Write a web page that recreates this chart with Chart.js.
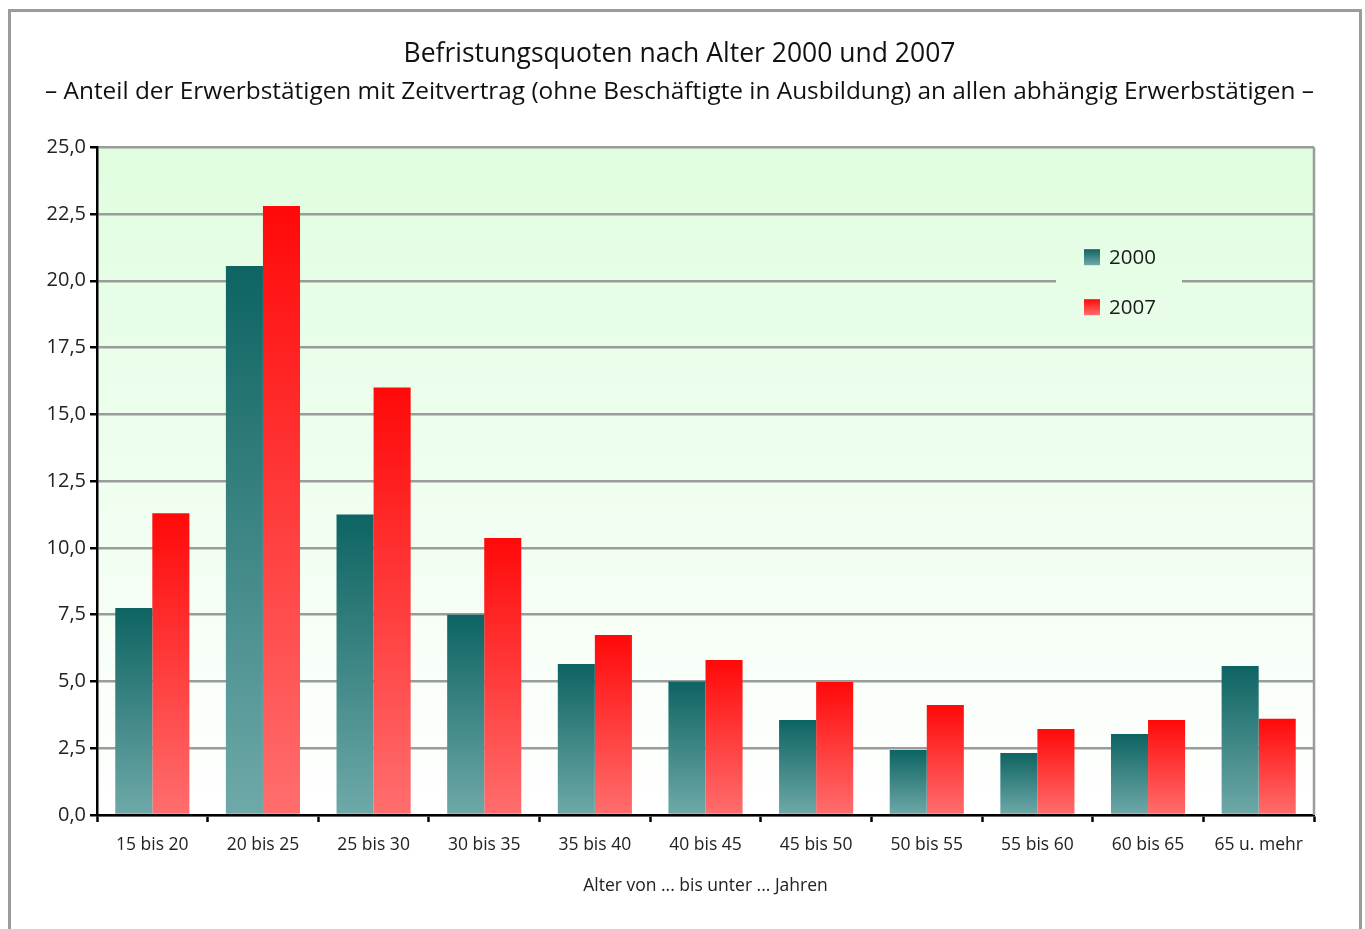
<!DOCTYPE html>
<html>
<head>
<meta charset="utf-8">
<script src="https://cdn.jsdelivr.net/npm/chart.js@4"></script>
<style>
  html, body { margin: 0; padding: 0; background: #fff; overflow: hidden; }
  #wrap { position: relative; width: 1365px; height: 929px; }
  #frame { position: absolute; left: 8px; top: 9px; width: 1354px; height: 1000px;
           border: 3px solid #9b9b9b; box-sizing: border-box; }
  canvas { position: absolute; left: 0; top: 0; }
</style>
</head>
<body>
<div id="wrap">
  <div id="frame"></div>
  <canvas id="chart" width="1365" height="929"></canvas>
</div>
<script>
// age groups
const categories = ["15 bis 20", "20 bis 25", "25 bis 30", "30 bis 35", "35 bis 40", "40 bis 45",
                    "45 bis 50", "50 bis 55", "55 bis 60", "60 bis 65", "65 u. mehr"];
const quote2000 = [7.75, 20.55, 11.25, 7.5, 5.65, 5.0, 3.56, 2.43, 2.32, 3.03, 5.58];
const quote2007 = [11.3, 22.8, 16.0, 10.37, 6.74, 5.8, 4.98, 4.12, 3.22, 3.56, 3.6];
const yTicks = [0, 2.5, 5, 7.5, 10, 12.5, 15, 17.5, 20, 22.5, 25];

const FONT = "'Open Sans', 'Noto Sans', sans-serif";

// vertical gradient per bar, dark at top, light at bottom
function barGrad(top, bottom) {
  return (c) => {
    const chart = c.chart;
    const y = chart.scales.y;
    if (!y || c.raw == null) return bottom;
    const y0 = y.getPixelForValue(0);
    const y1 = y.getPixelForValue(c.raw);
    if (!isFinite(y0) || !isFinite(y1) || y0 === y1) return bottom;
    const g = chart.ctx.createLinearGradient(0, y1, 0, y0);
    g.addColorStop(0, top);
    g.addColorStop(1, bottom);
    return g;
  };
}

function areaGrad(chart) {
  const a = chart.chartArea;
  const g = chart.ctx.createLinearGradient(0, a.top, 0, a.bottom);
  g.addColorStop(0, "#e0fde0");
  g.addColorStop(1, "#ffffff");
  return g;
}

const plotBg = {
  id: "plotBg",
  beforeDraw(chart) {
    const { ctx, chartArea: a } = chart;
    ctx.save();
    ctx.fillStyle = areaGrad(chart);
    ctx.fillRect(a.left, a.top, a.right - a.left, a.bottom - a.top);
    ctx.restore();
  },
  afterDatasetsDraw(chart) {
    const { ctx, chartArea: a } = chart;
    ctx.save();
    ctx.strokeStyle = "#9b9b9b";
    ctx.lineWidth = 2.5;
    ctx.beginPath();
    ctx.moveTo(a.right, a.top);
    ctx.lineTo(a.right, a.bottom);
    ctx.stroke();
    ctx.restore();
  }
};

// legend sitting inside the plot, over the 20,0 gridline
const innerLegend = {
  id: "innerLegend",
  afterDraw(chart) {
    const { ctx, chartArea: a } = chart;
    const x = a.right - 258, y = a.top + 86;
    ctx.save();
    ctx.fillStyle = areaGrad(chart);
    ctx.fillRect(x, y, 126, 98);
    chart.data.datasets.forEach((ds, i) => {
      const ty = y + 24 + i * 50;
      const g = ctx.createLinearGradient(0, ty - 8, 0, ty + 8);
      g.addColorStop(0, ds._top);
      g.addColorStop(1, ds._bottom);
      ctx.fillStyle = g;
      ctx.fillRect(x + 28, ty - 8, 16, 16);
      ctx.fillStyle = "#1a1a1a";
      ctx.font = "20.5px " + FONT;
      ctx.textBaseline = "middle";
      ctx.fillText(ds.label, x + 53, ty + 1);
    });
    ctx.restore();
  }
};

new Chart(document.getElementById("chart"), {
  type: "bar",
  data: {
    labels: categories,
    datasets: [
      { label: "2000", data: quote2000, _top: "#0d6462", _bottom: "#6fa9a9",
        backgroundColor: barGrad("#0d6462", "#6fa9a9") },
      { label: "2007", data: quote2007, _top: "#ff0909", _bottom: "#ff6e6e",
        backgroundColor: barGrad("#ff0909", "#ff6e6e") },
    ],
  },
  options: {
    responsive: false,
    animation: false,
    layout: { padding: { left: 45, right: 51, top: 0, bottom: 28 } },
    datasets: { bar: { categoryPercentage: 0.67, barPercentage: 1.0 } },
    plugins: {
      legend: { display: false },
      tooltip: { enabled: false },
      title: {
        display: true,
        text: "Befristungsquoten nach Alter 2000 und 2007",
        color: "#111",
        font: { family: FONT, size: 26.5, weight: "normal" },
        padding: { top: 39, bottom: 7 },
      },
      subtitle: {
        display: true,
        text: "– Anteil der Erwerbstätigen mit Zeitvertrag (ohne Beschäftigte in Ausbildung) an allen abhängig Erwerbstätigen –",
        color: "#111",
        font: { family: FONT, size: 24.5, weight: "normal" },
        padding: { top: 0, bottom: 40 },
      },
    },
    scales: {
      x: {
        grid: { display: true, drawOnChartArea: false, drawTicks: true, tickLength: 7,
                tickColor: "#000", tickWidth: 2.5 },
        border: { color: "#000", width: 2.5 },
        ticks: { color: "#222", font: { family: FONT, size: 17.5 }, padding: 13 },
        title: { display: true, text: "Alter von ... bis unter ... Jahren", color: "#222",
                 font: { family: FONT, size: 17.5 }, padding: { top: 7 } },
      },
      y: {
        min: 0,
        max: 25,
        afterBuildTicks: (s) => { s.ticks = yTicks.map(v => ({ value: v })); },
        afterFit: (s) => { s.width = 52; },
        grid: { color: "#9b9b9b", lineWidth: 2.5, tickLength: 7, tickColor: "#000", tickWidth: 2.5 },
        border: { color: "#000", width: 2.5 },
        ticks: {
          color: "#222",
          font: { family: FONT, size: 20 },
          padding: 4,
          callback: (v) => Number(v).toFixed(1).replace(".", ","),
        },
      },
    },
  },
  plugins: [plotBg, innerLegend],
});
</script>
</body>
</html>
